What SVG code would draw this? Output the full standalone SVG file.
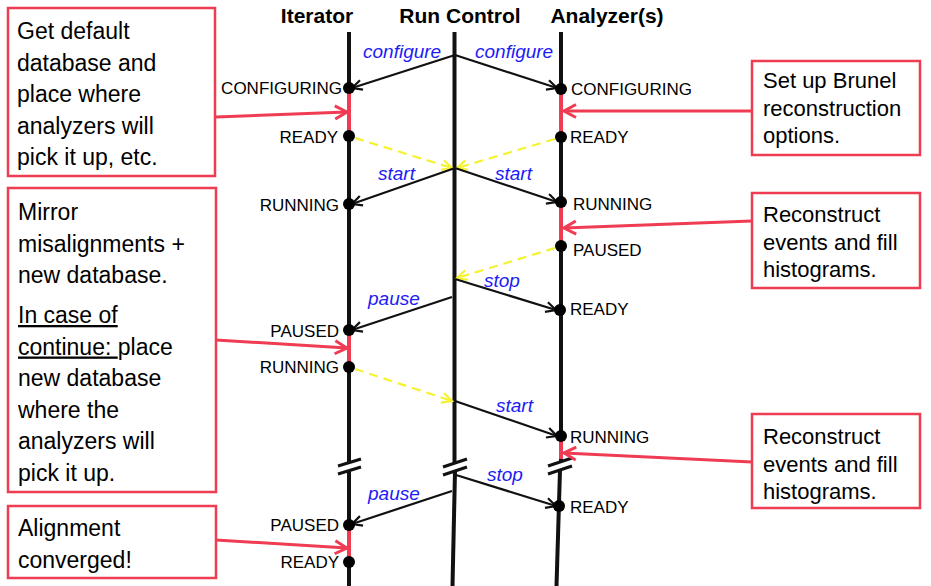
<svg xmlns="http://www.w3.org/2000/svg" width="931" height="586" viewBox="0 0 931 586">
<style>
.hdr{font-family:"Liberation Sans",Arial,sans-serif;font-weight:bold;font-size:21px;fill:#000;text-anchor:middle}
.st{font-family:"Liberation Sans",Arial,sans-serif;font-size:17px;fill:#000}
.stl{text-anchor:end}
.msg{font-family:"Liberation Sans",Arial,sans-serif;font-style:italic;font-size:19px;fill:#1c1cf5}
.bx{fill:#fff;stroke:#ef3c53;stroke-width:2.5}
.btl{font-family:"Liberation Sans",Arial,sans-serif;font-size:23px;fill:#000}
.btr{font-family:"Liberation Sans",Arial,sans-serif;font-size:22px;fill:#000}
.life{stroke:#111;stroke-width:4;fill:none}
.hot{stroke:#ef3c53;stroke-width:4}
.brk{stroke:#111;stroke-width:3}
.dot{fill:#000}
.arr{stroke:#111;stroke-width:2.2;fill:none;marker-end:url(#mb)}
.yel{stroke:#f5f230;stroke-width:2.2;fill:none;stroke-dasharray:9 6;marker-end:url(#my)}
.rar{stroke:#ef3c53;stroke-width:3;fill:none;marker-end:url(#mr)}
</style>
<defs>
<marker id="mb" markerUnits="userSpaceOnUse" markerWidth="14" markerHeight="14" refX="11" refY="6" orient="auto"><path d="M1,1 L11,6 L1,11" fill="none" stroke="#111" stroke-width="2.2"/></marker>
<marker id="my" markerUnits="userSpaceOnUse" markerWidth="14" markerHeight="14" refX="11" refY="6" orient="auto"><path d="M1,1 L11,6 L1,11" fill="none" stroke="#f5f230" stroke-width="2.2"/></marker>
<marker id="mr" markerUnits="userSpaceOnUse" markerWidth="18" markerHeight="18" refX="14" refY="8" orient="auto"><path d="M2,1.5 L14,8 L2,14.5" fill="none" stroke="#ef3c53" stroke-width="3"/></marker>
</defs>
<rect width="931" height="586" fill="#fff"/>

<g id="iterator">
<text class="hdr" x="317" y="23">Iterator</text>
<line class="life" x1="349" y1="32" x2="349" y2="462"/>
<line class="life" x1="349" y1="471" x2="349" y2="586"/>
<line class="hot" x1="349" y1="88" x2="349" y2="136"/>
<line class="hot" x1="349" y1="330" x2="349" y2="367"/>
<line class="hot" x1="349" y1="524" x2="349" y2="561"/>
<line class="brk" x1="338" y1="466" x2="361" y2="459"/>
<line class="brk" x1="338" y1="474" x2="361" y2="467"/>
</g>

<g id="runcontrol">
<text class="hdr" x="460" y="23">Run Control</text>
<line class="life" x1="454.5" y1="32" x2="454.5" y2="462"/>
<line class="life" x1="455" y1="471" x2="452.5" y2="586"/>
<line class="brk" x1="443" y1="467" x2="467" y2="459"/>
<line class="brk" x1="443" y1="475" x2="467" y2="467"/>
</g>

<g id="analyzers">
<text class="hdr" x="607" y="23">Analyzer(s)</text>
<line class="life" x1="561" y1="32" x2="561" y2="461"/>
<line class="life" x1="560" y1="470" x2="556.5" y2="586"/>
<line class="hot" x1="561" y1="89" x2="561" y2="137"/>
<line class="hot" x1="561" y1="202" x2="561" y2="246"/>
<line class="hot" x1="561" y1="436" x2="561" y2="459"/>
<line class="brk" x1="548" y1="466" x2="572" y2="458"/>
<line class="brk" x1="548" y1="474" x2="572" y2="466"/>
</g>

<g id="connectors">
<line class="arr" x1="455" y1="55" x2="352" y2="88"/>
<line class="arr" x1="455" y1="55" x2="557" y2="88"/>
<line class="yel" x1="355" y1="138" x2="452" y2="168"/>
<line class="yel" x1="555" y1="139" x2="457" y2="168"/>
<line class="arr" x1="455" y1="168" x2="352" y2="204"/>
<line class="arr" x1="455" y1="168" x2="557" y2="202"/>
<line class="yel" x1="555" y1="248" x2="457" y2="278"/>
<line class="arr" x1="455" y1="279" x2="556" y2="310"/>
<line class="arr" x1="452" y1="297" x2="352" y2="330"/>
<line class="yel" x1="355" y1="369" x2="452" y2="401"/>
<line class="arr" x1="455" y1="401" x2="557" y2="436"/>
<line class="arr" x1="456" y1="475" x2="556" y2="506"/>
<line class="arr" x1="452" y1="491" x2="352" y2="524"/>
<line class="rar" x1="216" y1="117" x2="347" y2="112"/>
<line class="rar" x1="216" y1="340" x2="347" y2="348"/>
<line class="rar" x1="216" y1="540" x2="347" y2="548"/>
<line class="rar" x1="752" y1="111" x2="564" y2="111"/>
<line class="rar" x1="752" y1="221" x2="564" y2="228"/>
<line class="rar" x1="752" y1="462" x2="564" y2="453"/>
<text class="msg" x="363" y="58">configure</text>
<text class="msg" x="475" y="58">configure</text>
<text class="msg" x="378" y="180">start</text>
<text class="msg" x="495" y="180">start</text>
<text class="msg" x="484" y="287">stop</text>
<text class="msg" x="368" y="305">pause</text>
<text class="msg" x="496" y="412">start</text>
<text class="msg" x="487" y="481">stop</text>
<text class="msg" x="368" y="500">pause</text>
</g>

<g id="states">
<circle class="dot" cx="349" cy="88" r="6"/><text class="st stl" x="342" y="94">CONFIGURING</text>
<circle class="dot" cx="349" cy="136" r="6"/><text class="st stl" x="338" y="143">READY</text>
<circle class="dot" cx="349" cy="204" r="6"/><text class="st stl" x="339" y="211">RUNNING</text>
<circle class="dot" cx="349" cy="330" r="6"/><text class="st stl" x="339" y="337">PAUSED</text>
<circle class="dot" cx="349" cy="367" r="6"/><text class="st stl" x="339" y="373">RUNNING</text>
<circle class="dot" cx="349" cy="525" r="6"/><text class="st stl" x="339" y="531">PAUSED</text>
<circle class="dot" cx="349" cy="562" r="6"/><text class="st stl" x="339" y="568">READY</text>
<circle class="dot" cx="561" cy="89" r="6"/><text class="st" x="571" y="95">CONFIGURING</text>
<circle class="dot" cx="561" cy="137" r="6"/><text class="st" x="570" y="143">READY</text>
<circle class="dot" cx="561" cy="202" r="6"/><text class="st" x="573" y="210">RUNNING</text>
<circle class="dot" cx="561" cy="246" r="6"/><text class="st" x="573" y="256">PAUSED</text>
<circle class="dot" cx="560" cy="310" r="6"/><text class="st" x="570" y="315">READY</text>
<circle class="dot" cx="561" cy="436" r="6"/><text class="st" x="570" y="443">RUNNING</text>
<circle class="dot" cx="559" cy="506" r="6"/><text class="st" x="570" y="513">READY</text>
</g>

<g id="note-configure">
<rect class="bx" x="8" y="8" width="207" height="168"/>
<text class="btl" x="17" y="39"><tspan x="17">Get default</tspan><tspan x="17" dy="31.5">database and</tspan><tspan x="17" dy="31.5">place where</tspan><tspan x="17" dy="31.5">analyzers will</tspan><tspan x="17" dy="31.5">pick it up, etc.</tspan></text>
</g>

<g id="note-mirror">
<rect class="bx" x="8" y="188" width="208" height="304"/>
<text class="btl" x="18" y="220"><tspan x="18">Mirror</tspan><tspan x="18" dy="31.5">misalignments +</tspan><tspan x="18" dy="31.5">new database.</tspan></text>
<text class="btl" x="18" y="323"><tspan x="18" style="text-decoration:underline">In case of</tspan><tspan x="18" dy="31.5" style="text-decoration:underline">continue: </tspan><tspan>place</tspan><tspan x="18" dy="31.5">new database</tspan><tspan x="18" dy="31.5">where the</tspan><tspan x="18" dy="31.5">analyzers will</tspan><tspan x="18" dy="31.5">pick it up.</tspan></text>
</g>

<g id="note-converged">
<rect class="bx" x="8" y="506" width="208" height="72"/>
<text class="btl" x="18" y="536"><tspan x="18">Alignment</tspan><tspan x="18" dy="31.5">converged!</tspan></text>
</g>

<g id="note-brunel">
<rect class="bx" x="752" y="61" width="168" height="94"/>
<text class="btr" x="763" y="88"><tspan x="763">Set up Brunel</tspan><tspan x="763" dy="27.5">reconstruction</tspan><tspan x="763" dy="27.5">options.</tspan></text>
</g>

<g id="note-reco1">
<rect class="bx" x="752" y="193" width="168" height="95"/>
<text class="btr" x="763" y="222"><tspan x="763">Reconstruct</tspan><tspan x="763" dy="27.5">events and fill</tspan><tspan x="763" dy="27.5">histograms.</tspan></text>
</g>

<g id="note-reco2">
<rect class="bx" x="752" y="414" width="168" height="94"/>
<text class="btr" x="763" y="444"><tspan x="763">Reconstruct</tspan><tspan x="763" dy="27.5">events and fill</tspan><tspan x="763" dy="27.5">histograms.</tspan></text>
</g>
</svg>
